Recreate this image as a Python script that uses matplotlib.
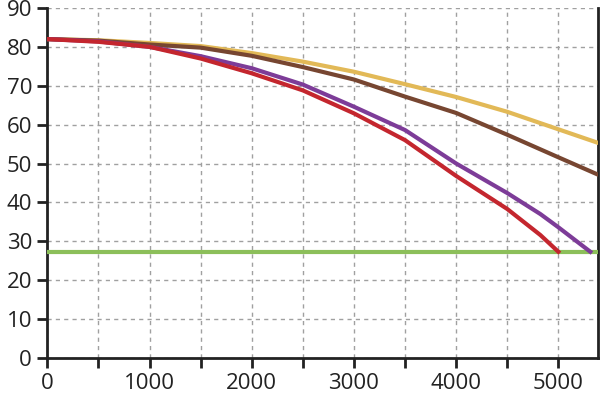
import matplotlib
matplotlib.use('Agg')
import matplotlib.pyplot as plt
import numpy as np

rpm = [0, 500, 1000, 1500, 2000, 2500, 3000, 3500, 4000, 4500, 5000, 5400]
yellow = [82, 81.7, 81.0, 80.2, 78.4, 76.2, 73.6, 70.4, 67.1, 63.3, 58.8, 55.2]
brown = [82, 81.6, 80.6, 79.8, 77.7, 74.8, 71.6, 67.2, 63.0, 57.4, 51.6, 47.0]

rpm_purple = [0, 500, 1000, 1500, 2000, 2500, 3000, 3500, 4000, 4500, 4824, 5000, 5313]
purple = [82, 81.4, 80.0, 77.6, 74.5, 70.3, 64.6, 58.6, 50.0, 42.4, 37.0, 33.6, 27.3]

rpm_red = [0, 500, 1000, 1500, 2000, 2500, 3000, 3500, 4000, 4500, 4824, 5000]
red = [82, 81.3, 80.0, 77.0, 73.2, 68.8, 62.9, 56.0, 46.8, 38.3, 31.6, 27.3]

green_level = 27.3

plt.rcParams['font.family'] = ['Open Sans', 'DejaVu Sans']

fig = plt.figure(figsize=(6, 3.99), dpi=100)
ax = fig.add_axes([0.079, 0.103, 0.918, 0.877])

lw = 3.0
ax.axhline(green_level, color='#8cbf5a', lw=lw, zorder=3)
ax.plot(rpm, yellow, color='#e2b957', lw=lw, zorder=4)
ax.plot(rpm, brown, color='#774631', lw=lw, zorder=4)
ax.plot(rpm_purple, purple, color='#7d3c98', lw=lw, zorder=5)
ax.plot(rpm_red, red, color='#c4262e', lw=lw, zorder=5)

ax.set_xlim(0, 5390)
ax.set_ylim(0, 90)
ax.set_xticks(np.arange(0, 5400, 500))
ax.set_xticklabels([str(v) if v % 1000 == 0 else '' for v in range(0, 5400, 500)])
ax.set_yticks(np.arange(0, 91, 10))

ax.grid(True, color='#a0a0a0', lw=1, ls=(0, (3, 3)), zorder=1)
for s in ['left', 'bottom', 'right']:
    ax.spines[s].set_linewidth(2)
    ax.spines[s].set_color('#222222')
ax.spines['top'].set_visible(False)
ax.tick_params(axis='both', length=7, width=2, color='#222222', labelsize=16, labelcolor='#222222', pad=4)

fig.savefig('out.png', dpi=100)
